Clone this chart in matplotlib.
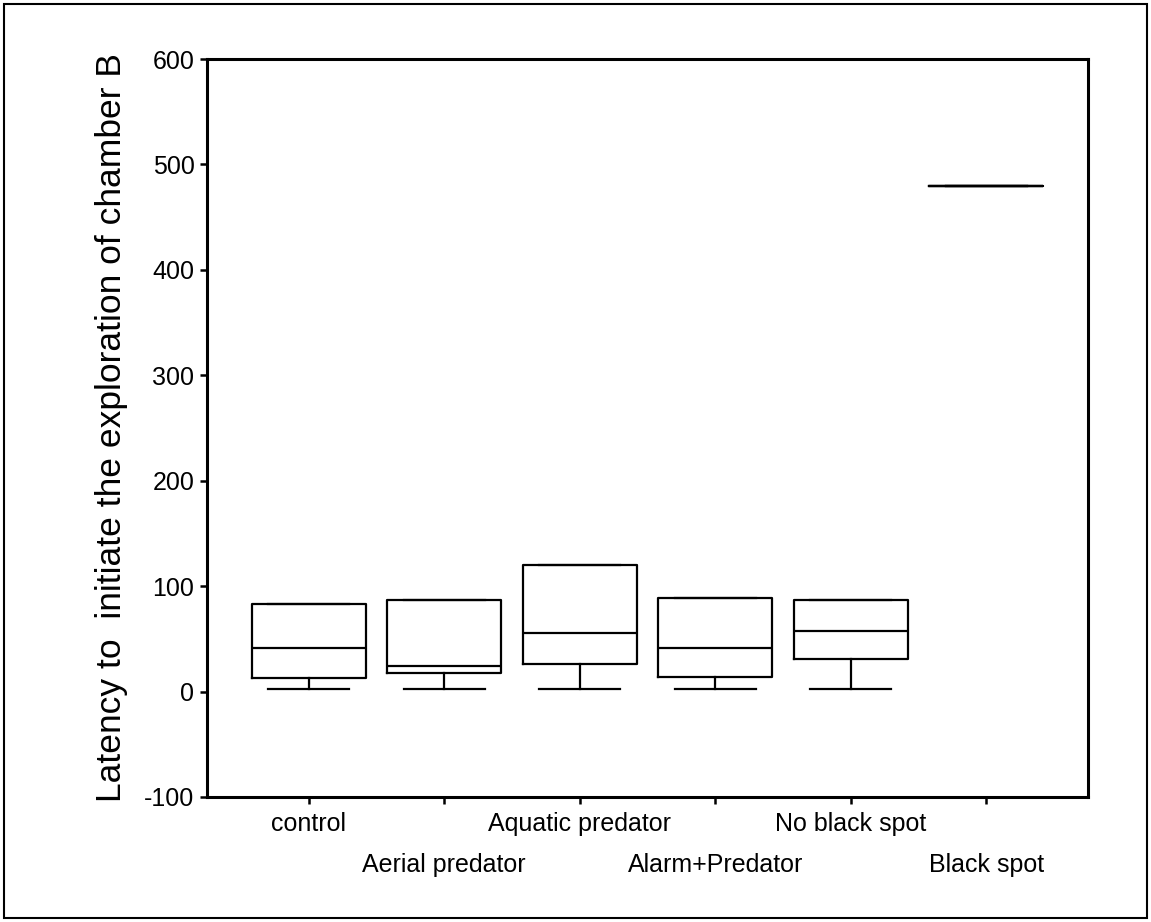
import matplotlib
matplotlib.use("Agg")
import matplotlib.pyplot as plt
from matplotlib.patches import Rectangle

plt.rcParams['font.family'] = ['Liberation Sans', 'DejaVu Sans']

groups = ["control", "Aerial predator", "Aquatic predator",
          "Alarm+Predator", "No black spot", "Black spot"]
q1 = [12.9, 17.6, 26.4, 13.5, 30.9, 480]
medians = [41.6, 24.3, 55.6, 41.6, 57.7, 480]
q3 = [82.8, 86.9, 120.0, 88.5, 86.6, 480]
whisker_low = [2.2, 2.2, 2.2, 2.2, 2.2, 480]
whisker_high = [82.8, 86.9, 120.0, 88.5, 86.6, 480]
y_ticks = [-100, 0, 100, 200, 300, 400, 500, 600]

fig = plt.figure(figsize=(11.51, 9.22), dpi=100)
ax = fig.add_axes([0.1798, 0.1356, 0.9453 - 0.1798, 0.936 - 0.1356])

stats = []
for i, g in enumerate(groups):
    stats.append(dict(label=g, med=medians[i], q1=q1[i], q3=q3[i],
                      whislo=whisker_low[i], whishi=whisker_high[i], fliers=[]))

lw = 1.6
ax.bxp(stats, positions=range(1, len(groups) + 1), widths=0.84,
       showfliers=False, capwidths=0.6,
       boxprops=dict(color='black', linewidth=lw),
       medianprops=dict(color='black', linewidth=lw),
       whiskerprops=dict(color='black', linewidth=lw),
       capprops=dict(color='black', linewidth=lw))

ax.set_xlim(0.25, 6.75)
ax.set_ylim(-100, 600)
ax.set_yticks(y_ticks)
ax.set_yticklabels([str(v) for v in y_ticks])
ax.set_xticks(range(1, len(groups) + 1))
ax.set_xticklabels(groups)

for s in ax.spines.values():
    s.set_linewidth(2.2)

ax.tick_params(axis='both', direction='out', length=5, width=1.8,
               labelsize=18, colors='black')
ax.tick_params(axis='y', pad=4)
for i, t in enumerate(ax.xaxis.get_major_ticks()):
    t.set_pad(6 if i % 2 == 0 else 35)

ax.set_ylabel("Latency to  initiate the exploration of chamber B", fontsize=25.5)
ax.yaxis.set_label_coords(-0.09, 0.5)

# outer frame around the whole figure
fig.patches.append(Rectangle((4 / 1151, 4 / 922), 1 - 8 / 1151, 1 - 8 / 922,
                             transform=fig.transFigure, fill=False,
                             edgecolor='black', linewidth=1.5))

fig.savefig("out.png", dpi=100)
